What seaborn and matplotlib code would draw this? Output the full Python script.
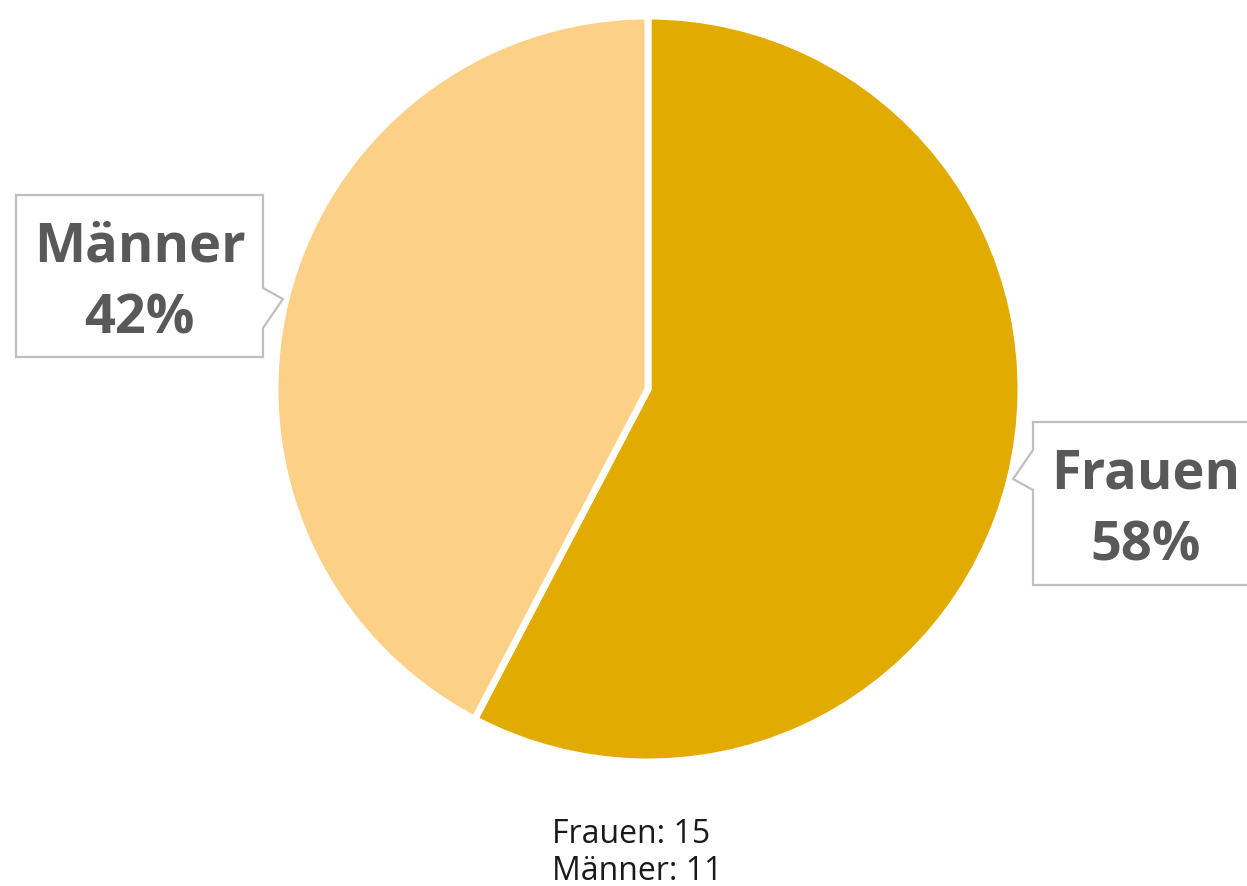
import matplotlib
matplotlib.use("Agg")
import matplotlib.pyplot as plt
import seaborn as sns
import numpy as np
from matplotlib.patches import Polygon

# data
labels = ["Frauen", "Männer"]
counts = [15, 11]
colors = ["#E2AB00", "#FDD088"]

sns.set_theme(style="white")
plt.rcParams["font.family"] = ["Open Sans", "DejaVu Sans"]

W, H = 1247, 886
fig = plt.figure(figsize=(W / 100, H / 100), dpi=100)
ax = fig.add_axes([0, 0, 1, 1])

# pie placed in pixel-like coordinates (y up)
cx, cy, r = 648, H - 389, 373
wedges, _ = ax.pie(counts, colors=colors, startangle=90, counterclock=False,
                   center=(cx, cy), radius=r,
                   wedgeprops=dict(edgecolor="white", linewidth=5))
ax.set_xlim(0, W)
ax.set_ylim(0, H)
ax.set_aspect("equal")
ax.axis("off")

total = sum(counts)
# callout boxes: left, right, top, bottom (pixels from top), pointer side, pointer base centre
boxes = {
    "Männer": (16, 263, 195, 357, "right", 308),
    "Frauen": (1033, 1270, 422, 585, "left", 470),
}

for w, lab, n in zip(wedges, labels, counts):
    x0, x1, yt, yb, side, pc = boxes[lab]
    mid = np.deg2rad((w.theta1 + w.theta2) / 2)
    tx = cx + (r + 3) * np.cos(mid)
    ty = cy + (r + 3) * np.sin(mid)
    yt, yb, pc = H - yt, H - yb, H - pc
    if side == "right":
        pts = [(x0, yt), (x1, yt), (x1, pc + 20), (tx, ty), (x1, pc - 20), (x1, yb), (x0, yb)]
    else:
        pts = [(x0, yt), (x1, yt), (x1, yb), (x0, yb), (x0, pc - 20), (tx, ty), (x0, pc + 20)]
    ax.add_patch(Polygon(pts, closed=True, facecolor="white", edgecolor="#BFBFBF",
                         linewidth=1.6, zorder=5, clip_on=False))
    xc = (x0 + x1) / 2 if side == "right" else 1146
    ym = (yt + yb) / 2
    ax.text(xc, ym + 29, lab, ha="center", va="center", fontsize=39,
            fontweight="bold", color="#595959", zorder=6)
    ax.text(xc, ym - 43, f"{round(n / total * 100)}%", ha="center", va="center",
            fontsize=39, fontweight="bold", color="#595959", zorder=6)

summary = "\n".join(f"{lab}: {n}" for lab, n in zip(labels, counts))
ax.text(552, H - 853, summary, ha="left", va="center", fontsize=23,
        color="#1a1a1a", linespacing=1.15)

fig.savefig("out.png", dpi=100)
